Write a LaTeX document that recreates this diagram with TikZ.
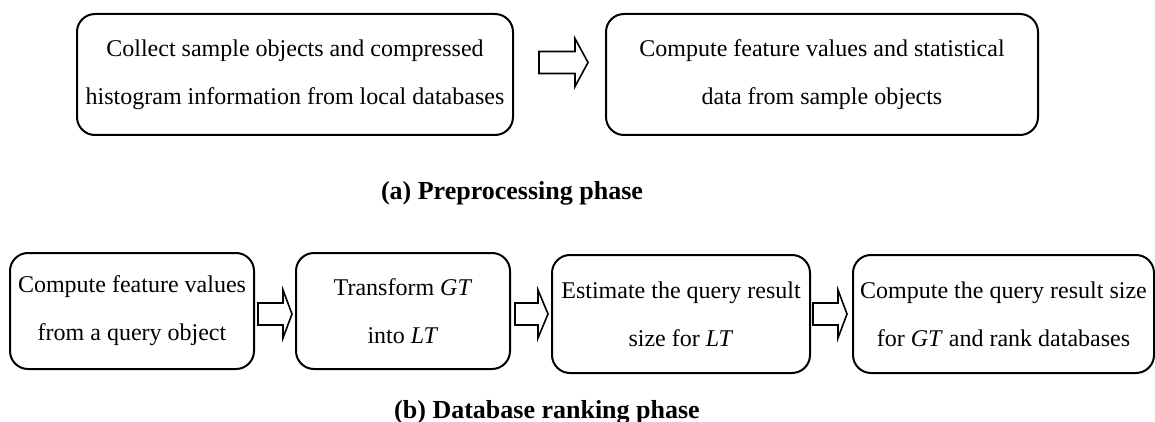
\documentclass[tikz,border=0pt]{standalone}
\usepackage{fontspec}
\setmainfont{Liberation Serif}
\usetikzlibrary{calc}

\tikzset{
  stagebox/.style={draw, line width=1pt, rounded corners=9pt, inner sep=0pt,
    align=center, font=\fontsize{12}{24}\selectfont},
  arrowbox/.style={draw, line width=0.8pt, fill=white, line join=miter},
  caption/.style={inner sep=0pt, font=\fontsize{13}{15}\selectfont\bfseries}
}

% hollow block arrow from a tail coordinate to a tip coordinate
\newcommand\hollowarrow[3]{%
  \draw[arrowbox] let \p1=(#1), \p2=(#2) in
    (\x1,\y1+5.5pt) -- (\x2-#3,\y1+5.5pt) -- (\x2-#3,\y1+12pt) -- (\x2,\y1)
    -- (\x2-#3,\y1-12pt) -- (\x2-#3,\y1-5.5pt) -- (\x1,\y1-5.5pt) -- cycle;}

\begin{document}
\begin{tikzpicture}[x=0.5pt, y=-0.5pt]
  \useasboundingbox (0,0) rectangle (1155,422);

  % preprocessing phase
  \node[stagebox, minimum width=218pt, minimum height=60.5pt] (collect) at (295,74.5)
    {Collect sample objects and compressed\\histogram information from local databases};
  \node[stagebox, minimum width=216pt, minimum height=60.5pt] (stats) at (822,74.5)
    {Compute feature values and statistical\\data from sample objects};
  \coordinate (pa) at (539,62.5);
  \coordinate (pb) at (588,62.5);
  \hollowarrow{pa}{pb}{6.5pt}
  \node[caption] (capa) at (512,193) {(a) Preprocessing phase};

  % database ranking phase
  \node[stagebox, minimum width=122pt, minimum height=58pt] (feat) at (132,311)
    {Compute feature values\\from a query object};
  \node[stagebox, minimum width=107pt, minimum height=58pt] (trans) at (403,311)
    {Transform \textit{GT}\\into \textit{LT}};
  \node[stagebox, minimum width=129pt, minimum height=59pt] (est) at (681,314)
    {Estimate the query result\\size for \textit{LT}};
  \node[stagebox, minimum width=150.5pt, minimum height=59pt] (rank) at (1003.5,314)
    {Compute the query result size\\for \textit{GT} and rank databases};

  \coordinate (r1a) at (258,314);
  \coordinate (r1b) at (292,314);
  \coordinate (r2a) at (515,314);
  \coordinate (r2b) at (548,314);
  \coordinate (r3a) at (813,314);
  \coordinate (r3b) at (847,314);
  \hollowarrow{r1a}{r1b}{4.5pt}
  \hollowarrow{r2a}{r2b}{5pt}
  \hollowarrow{r3a}{r3b}{4.5pt}

  \node[caption] (capb) at (547,412) {(b) Database ranking phase};
\end{tikzpicture}
\end{document}
